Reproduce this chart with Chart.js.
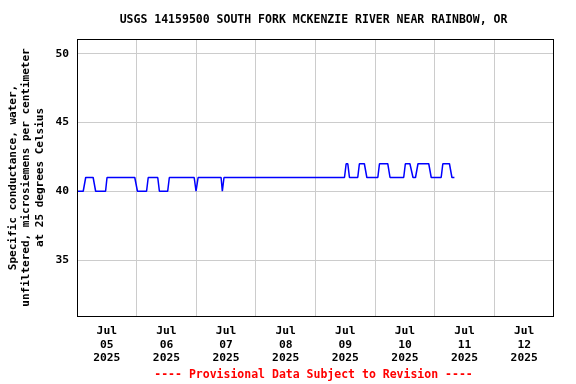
<!DOCTYPE html>
<html>
<head>
<meta charset="utf-8">
<script src="https://cdn.jsdelivr.net/npm/chart.js@4.4.0/dist/chart.umd.min.js"></script>
<style>
html,body{margin:0;padding:0;background:#fff;}
#wrap{width:576px;height:384px;position:relative;}
</style>
</head>
<body>
<div id="wrap"><canvas id="c" width="576" height="384"></canvas></div>
<script>
// ---- data ----
const chartTitle = "USGS 14159500 SOUTH FORK MCKENZIE RIVER NEAR RAINBOW, OR";
const yTitleLines = ["Specific conductance, water,", "unfiltered, microsiemens per centimeter", "at 25 degrees Celsius"];
const footerText = "---- Provisional Data Subject to Revision ----";
const startDate = "2025-07-05T00:00";
const endDate = "2025-07-13T00:00";
const dayLabels = [["Jul","05","2025"],["Jul","06","2025"],["Jul","07","2025"],["Jul","08","2025"],["Jul","09","2025"],["Jul","10","2025"],["Jul","11","2025"],["Jul","12","2025"]];
const yTicks = [35, 40, 45, 50];
const yMin = 30.93, yMax = 51.07;

const times = [
 "2025-07-05T00:00","2025-07-05T02:30","2025-07-05T03:30","2025-07-05T06:30","2025-07-05T07:30",
 "2025-07-05T11:30","2025-07-05T12:05","2025-07-05T23:15","2025-07-06T00:20","2025-07-06T04:00",
 "2025-07-06T04:40","2025-07-06T08:30","2025-07-06T09:10","2025-07-06T12:30","2025-07-06T13:10",
 "2025-07-06T23:10","2025-07-06T23:55","2025-07-07T00:45","2025-07-07T10:00","2025-07-07T10:30",
 "2025-07-07T11:10","2025-07-09T11:40","2025-07-09T12:20","2025-07-09T13:00","2025-07-09T13:40",
 "2025-07-09T17:00","2025-07-09T17:40","2025-07-09T19:40","2025-07-09T20:40","2025-07-10T01:05",
 "2025-07-10T01:45","2025-07-10T05:05","2025-07-10T06:00","2025-07-10T11:30","2025-07-10T12:10",
 "2025-07-10T14:00","2025-07-10T15:15","2025-07-10T16:15","2025-07-10T17:15","2025-07-10T21:35",
 "2025-07-10T22:35","2025-07-11T02:35","2025-07-11T03:15","2025-07-11T05:55","2025-07-11T06:55",
 "2025-07-11T07:55"
];
const values = [
 40,40,41,41,40,
 40,41,41,40,40,
 41,41,40,40,41,
 41,40,41,41,40,
 41,41,42,42,41,
 41,42,42,41,41,
 42,42,41,41,42,
 42,41,41,42,42,
 41,41,42,42,41,
 41
];

// ---- build ----
const toH = s => (Date.parse(s + ":00Z") - Date.parse(startDate + ":00Z")) / 3600000;
const totalH = toH(endDate);
const pts = times.map((t, i) => ({x: toH(t), y: values[i]}));

const MONO = '"DejaVu Sans Mono", "Liberation Mono", monospace';

const extras = {
  id: 'extras',
  afterDraw(chart) {
    const ctx = chart.ctx, a = chart.chartArea;
    ctx.save();
    // frame
    ctx.strokeStyle = '#000';
    ctx.lineWidth = 1;
    ctx.strokeRect(Math.round(a.left) + 0.5, Math.round(a.top) + 0.5, Math.round(a.right - a.left) - 1, Math.round(a.bottom - a.top));
    // title
    const cx = (a.left + a.right) / 2 - 2;
    ctx.fillStyle = '#000';
    ctx.textAlign = 'center';
    ctx.textBaseline = 'middle';
    ctx.font = 'bold 11.5px ' + MONO;
    ctx.fillText(chartTitle, cx, 20);
    // footer
    ctx.fillStyle = '#ff0000';
    ctx.fillText(footerText, cx, 375);
    // y axis title
    ctx.fillStyle = '#000';
    ctx.font = 'bold 11px ' + MONO;
    ctx.translate(0, (a.top + a.bottom) / 2);
    ctx.rotate(-Math.PI / 2);
    const xs = [13, 26.5, 40];
    yTitleLines.forEach((l, i) => ctx.fillText(l, 0, xs[i]));
    ctx.restore();
  }
};

new Chart(document.getElementById('c'), {
  type: 'line',
  data: {
    datasets: [{
      data: pts,
      borderColor: '#0000ff',
      borderWidth: 1.5,
      borderJoinStyle: 'bevel',
      pointRadius: 0,
      tension: 0,
      fill: false
    }]
  },
  options: {
    responsive: false,
    animation: false,
    layout: {padding: {top: 39, right: 22, left: 0, bottom: 0}},
    plugins: {legend: {display: false}, tooltip: {enabled: false}, title: {display: false}},
    scales: {
      x: {
        type: 'linear',
        min: 0, max: totalH,
        afterBuildTicks(scale) {
          const t = [];
          for (let h = 0; h <= totalH; h += 12) t.push({value: h});
          scale.ticks = t;
        },
        afterFit(scale) { scale.height = 68; },
        border: {display: false},
        grid: {
          drawTicks: false,
          lineWidth: 1,
          color: ctx => {
            const v = ctx.tick ? ctx.tick.value : -1;
            return (v % 24 === 0 && v > 0 && v < totalH) ? '#cccccc' : 'rgba(0,0,0,0)';
          }
        },
        ticks: {
          autoSkip: false,
          maxRotation: 0,
          padding: 9,
          color: '#000',
          font: {family: MONO, size: 11.3, weight: 'bold', lineHeight: 1.16},
          callback: v => (v % 24 === 12) ? dayLabels[Math.floor(v / 24)] : ''
        }
      },
      y: {
        min: yMin, max: yMax,
        afterBuildTicks(scale) { scale.ticks = yTicks.map(v => ({value: v})); },
        afterFit(scale) { scale.width = 77; },
        border: {display: false},
        grid: {drawTicks: false, color: '#cccccc', lineWidth: 1},
        ticks: {
          padding: 8,
          color: '#000',
          font: {family: MONO, size: 11.3, weight: 'bold'},
          callback: v => String(v)
        }
      }
    }
  },
  plugins: [extras]
});
</script>
</body>
</html>
